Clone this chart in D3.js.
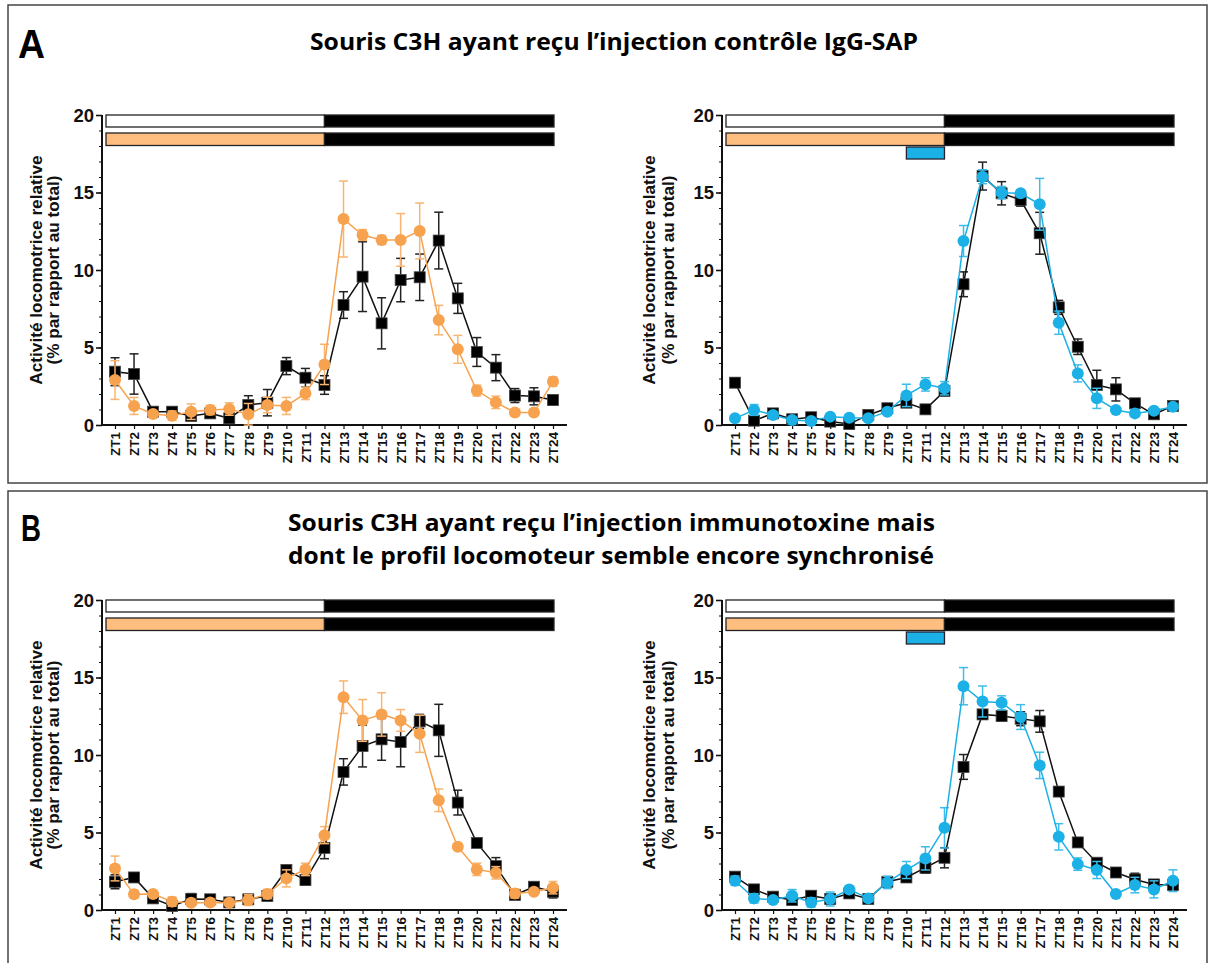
<!DOCTYPE html>
<html><head><meta charset="utf-8">
<script src="https://cdn.jsdelivr.net/npm/d3@7"></script>
<style>
body{margin:0;background:#fff;}
svg{display:block;}
</style></head>
<body>
<svg id="chart" width="1209" height="963"></svg>
<script>
const categories = d3.range(1, 25).map(i => "ZT" + i);
const yTicks = [0, 5, 10, 15, 20];

// Panel A, left: control (black) vs orange
const aLeftBlack    = [3.44,3.29,0.86,0.86,0.58,0.75,0.43,1.29,1.44,3.8,3.05,2.58,7.74,9.57,6.56,9.35,9.53,11.9,8.17,4.71,3.7,1.9,1.85,1.61];
const aLeftBlackErr = [0.9,1.3,0.2,0.15,0.15,0.15,0.1,0.6,0.85,0.55,0.6,0.6,0.86,2.25,1.65,1.4,1.5,1.83,0.97,0.93,0.84,0.45,0.55,0.3];
const aLeftOrange    = [2.9,1.23,0.71,0.6,0.86,0.97,1.03,0.69,1.29,1.23,2.04,3.91,13.29,12.26,11.94,11.94,12.52,6.77,4.88,2.22,1.46,0.8,0.8,2.8];
const aLeftOrangeErr = [1.25,0.55,0.15,0.3,0.5,0.3,0.4,0.7,0.5,0.55,0.4,1.3,2.45,0.35,0.3,1.7,1.8,0.95,0.9,0.35,0.4,0.2,0.2,0.3];

// Panel A, right: black vs blue
const aRightBlack    = [2.73,0.28,0.75,0.37,0.5,0.22,0.06,0.65,1.08,1.44,1.01,2.19,9.08,16.06,14.95,14.52,12.37,7.59,5.05,2.58,2.3,1.4,0.69,1.23];
const aRightBlackErr = [0.3,0.1,0.15,0.1,0.1,0.1,0.1,0.1,0.15,0.2,0.25,0.2,0.8,0.9,0.75,0.4,1.35,0.45,0.5,0.95,0.75,0.15,0.1,0.15];
const aRightBlue    = [0.43,0.97,0.65,0.32,0.26,0.54,0.47,0.43,0.86,1.91,2.62,2.37,11.87,16.02,14.99,14.95,14.24,6.6,3.33,1.72,0.97,0.75,0.92,1.18];
const aRightBlueErr = [0.05,0.35,0.2,0.1,0.1,0.1,0.1,0.1,0.2,0.72,0.43,0.43,1.0,0.45,0.4,0.2,1.67,0.75,0.55,0.65,0.1,0.2,0.15,0.1];

// Panel B, left
const bLeftBlack    = [1.82,2.1,0.75,0.26,0.71,0.69,0.49,0.69,0.9,2.58,1.93,4.01,8.91,10.58,11.01,10.84,12.17,11.59,6.93,4.33,2.83,0.97,1.5,1.18];
const bLeftBlackErr = [0.45,0.2,0.15,0.1,0.35,0.15,0.1,0.2,0.2,0.2,0.3,0.7,0.85,1.35,1.35,1.6,0.45,1.68,0.8,0.15,0.55,0.15,0.1,0.4];
const bLeftOrange    = [2.68,1.01,1.03,0.54,0.47,0.49,0.47,0.64,1.03,2.04,2.62,4.83,13.73,12.23,12.62,12.23,11.37,7.08,4.08,2.62,2.4,1.07,1.18,1.44];
const bLeftOrangeErr = [0.8,0.25,0.15,0.3,0.2,0.2,0.2,0.35,0.3,0.55,0.4,0.55,1.05,1.35,1.4,0.7,1.2,0.73,0.15,0.4,0.4,0.3,0.15,0.4];

// Panel B, right
const bRightBlack    = [2.15,1.33,0.86,0.64,0.92,0.71,1.07,0.71,1.82,2.1,2.73,3.37,9.23,12.62,12.51,12.34,12.17,7.64,4.36,3.05,2.42,1.97,1.65,1.61];
const bRightBlackErr = [0.15,0.15,0.1,0.15,0.15,0.1,0.1,0.1,0.2,0.3,0.35,0.65,0.8,0.3,0.3,0.45,0.7,0.2,0.2,0.2,0.1,0.4,0.15,0.3];
const bRightBlue    = [1.89,0.75,0.64,0.92,0.49,0.71,1.33,0.75,1.78,2.58,3.33,5.3,14.44,13.45,13.37,12.45,9.33,4.72,2.96,2.58,1.03,1.61,1.33,1.89];
const bRightBlueErr = [0.3,0.3,0.15,0.4,0.3,0.45,0.2,0.2,0.4,0.55,0.75,1.3,1.2,1.0,0.45,0.8,0.85,0.85,0.4,0.55,0.1,0.5,0.55,0.7];

const titleA = "Souris C3H ayant reçu l’injection contrôle IgG-SAP";
const titleB1 = "Souris C3H ayant reçu l’injection immunotoxine mais";
const titleB2 = "dont le profil locomoteur semble encore synchronisé";
const yTitle1 = "Activité locomotrice relative";
const yTitle2 = "(% par rapport au total)";

const ORANGE = "#F7A24F", ORANGE_ERR = "#F9B470", PEACH = "#FDBE80";
const BLUE = "#1BB1E7", BLUE_ERR = "#3DBDEB";

const svg = d3.select("#chart");
const TF = "'Open Sans', sans-serif";
const AF = "'Liberation Sans', Arial, sans-serif";

// frames
svg.append("rect").attr("x", 8).attr("y", 5).attr("width", 1199).attr("height", 478)
  .attr("fill", "none").attr("stroke", "#444").attr("stroke-width", 1.5);
svg.append("rect").attr("x", 8).attr("y", 491).attr("width", 1199).attr("height", 480)
  .attr("fill", "none").attr("stroke", "#444").attr("stroke-width", 1.5);

// panel letters & titles
svg.append("text").attr("x", 18).attr("y", 58).text("A")
  .attr("font-family", AF).attr("font-weight", "bold").attr("font-size", 40).attr("textLength", 27).attr("lengthAdjust", "spacingAndGlyphs");
svg.append("text").attr("x", 21).attr("y", 541).text("B")
  .attr("font-family", AF).attr("font-weight", "bold").attr("font-size", 37).attr("textLength", 20).attr("lengthAdjust", "spacingAndGlyphs");

function title(txt, x1, x2, y) {
  svg.append("text").attr("x", x1).attr("y", y).text(txt)
    .attr("font-family", TF).attr("font-weight", "bold").attr("font-size", 23)
    .attr("textLength", x2 - x1).attr("lengthAdjust", "spacingAndGlyphs");
}
title(titleA, 310, 918, 50);
title(titleB1, 288, 935, 531);
title(titleB2, 288, 934, 564);

function panel(axisX, yTop, black, blackErr, col, colErr, color, colorErr, withBlue, t1off, t2off) {
  const g = svg.append("g");
  const y = d3.scaleLinear().domain([0, 20]).range([yTop + 310, yTop]);
  const x = d3.scalePoint().domain(categories).range([axisX + 13, axisX + 451]);
  const axisEnd = axisX + 465;

  // light/dark bars
  const bx0 = axisX + 4, bx1 = axisX + 452, split = x("ZT12");
  const bars = [
    {y: yTop, h: 12, left: "#fff"},
    {y: yTop + 18, h: 12.5, left: PEACH}
  ];
  bars.forEach(b => {
    g.append("rect").attr("x", bx0).attr("y", b.y).attr("width", split - bx0).attr("height", b.h)
      .attr("fill", b.left).attr("stroke", "#222").attr("stroke-width", 1.3);
    g.append("rect").attr("x", split).attr("y", b.y).attr("width", bx1 - split).attr("height", b.h)
      .attr("fill", "#000").attr("stroke", "#222").attr("stroke-width", 1.3);
  });
  if (withBlue) {
    g.append("rect").attr("x", x("ZT10")).attr("y", yTop + 32).attr("width", split - x("ZT10")).attr("height", 12)
      .attr("fill", BLUE).attr("stroke", "#223").attr("stroke-width", 1.3);
  }

  // axes
  const yMinor = g.append("g").attr("transform", `translate(${axisX},0)`)
    .call(d3.axisLeft(y).tickValues(d3.range(0, 21)).tickSize(3).tickFormat(""));
  yMinor.select(".domain").remove();
  yMinor.selectAll("line").attr("stroke", "#111").attr("stroke-width", 1);
  const yAx = g.append("g").attr("transform", `translate(${axisX},0)`)
    .call(d3.axisLeft(y).tickValues(yTicks).tickSize(6).tickPadding(2));
  yAx.select(".domain").attr("stroke", "#111").attr("stroke-width", 2).attr("d", `M0,${y(0)}V${y(20)}`);
  yAx.selectAll("line").attr("stroke", "#111").attr("stroke-width", 1.6);
  yAx.selectAll("text").attr("font-family", AF).attr("font-weight", "bold").attr("font-size", 18.5).attr("fill", "#111").attr("dy", "0.35em");

  const xAx = g.append("g").attr("transform", `translate(0,${y(0)})`)
    .call(d3.axisBottom(x).tickSize(4).tickPadding(3));
  xAx.select(".domain").attr("stroke", "#111").attr("stroke-width", 2).attr("d", `M${axisX},0H${axisEnd}`);
  xAx.selectAll("line").attr("stroke", "#111").attr("stroke-width", 1.2);
  xAx.selectAll("text").attr("font-family", AF).attr("font-weight", "bold").attr("font-size", 13.5).attr("fill", "#111")
    .attr("transform", "rotate(-90)").attr("text-anchor", "end").attr("x", -7).attr("y", 0).attr("dy", "0.35em");

  // y title
  const cy = (y(0) + y(20)) / 2;
  [[yTitle1, axisX + t1off], [yTitle2, axisX + t2off]].forEach(([t, tx]) => {
    g.append("text").attr("transform", `translate(${tx},${cy}) rotate(-90)`).attr("text-anchor", "middle")
      .attr("dy", "0.35em").text(t)
      .attr("font-family", AF).attr("font-weight", "bold").attr("font-size", 17.2).attr("fill", "#111");
  });

  function series(vals, errs, lineColor, errColor, shape) {
    const s = g.append("g");
    const data = vals.map((v, i) => ({c: categories[i], v, e: errs[i]}));
    s.selectAll("line.eb").data(data).join("line").attr("class", "eb")
      .attr("x1", d => x(d.c)).attr("x2", d => x(d.c)).attr("y1", d => y(d.v - d.e)).attr("y2", d => y(d.v + d.e))
      .attr("stroke", errColor).attr("stroke-width", 1.5);
    ["-", "+"].forEach(sg => {
      s.selectAll("line.cap" + (sg === "+" ? "p" : "m")).data(data).join("line")
        .attr("x1", d => x(d.c) - 4.5).attr("x2", d => x(d.c) + 4.5)
        .attr("y1", d => y(sg === "+" ? d.v + d.e : d.v - d.e)).attr("y2", d => y(sg === "+" ? d.v + d.e : d.v - d.e))
        .attr("stroke", errColor).attr("stroke-width", 1.5);
    });
    s.append("path").datum(data).attr("fill", "none").attr("stroke", lineColor).attr("stroke-width", 1.5)
      .attr("d", d3.line().x(d => x(d.c)).y(d => y(d.v)));
    if (shape === "square") {
      s.selectAll("rect.m").data(data).join("rect").attr("class", "m")
        .attr("x", d => x(d.c) - 5.5).attr("y", d => y(d.v) - 5.5).attr("width", 11).attr("height", 11)
        .attr("fill", "#000").attr("stroke", "#444").attr("stroke-width", 0.8);
    } else {
      s.selectAll("circle.m").data(data).join("circle").attr("class", "m")
        .attr("cx", d => x(d.c)).attr("cy", d => y(d.v)).attr("r", 6)
        .attr("fill", lineColor);
    }
  }
  series(black, blackErr, "#111", "#222", "square");
  series(col, colErr, color, colorErr, "circle");
}

panel(102, 115, aLeftBlack, aLeftBlackErr, aLeftOrange, aLeftOrangeErr, ORANGE, ORANGE_ERR, false, -66, -49);
panel(722, 115, aRightBlack, aRightBlackErr, aRightBlue, aRightBlueErr, BLUE, BLUE_ERR, true, -73, -54);
panel(102, 600, bLeftBlack, bLeftBlackErr, bLeftOrange, bLeftOrangeErr, ORANGE, ORANGE_ERR, false, -66, -49);
panel(722, 600, bRightBlack, bRightBlackErr, bRightBlue, bRightBlueErr, BLUE, BLUE_ERR, true, -73, -54);
</script>
</body></html>
